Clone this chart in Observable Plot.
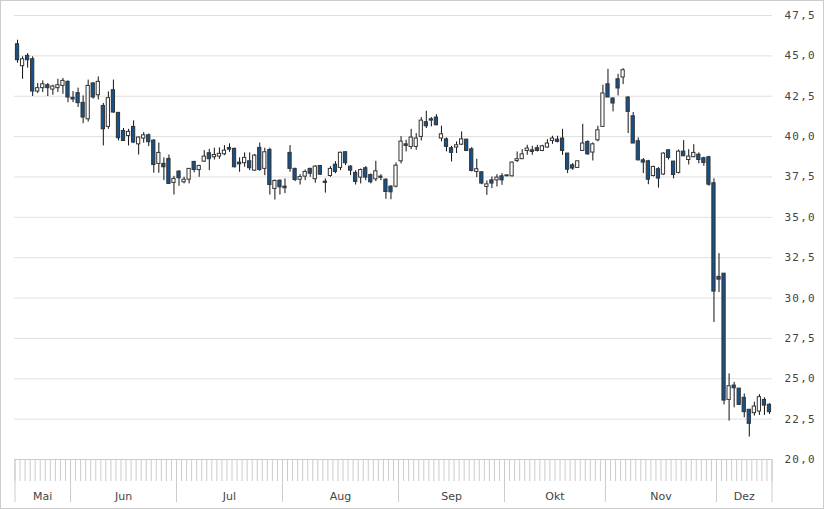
<!DOCTYPE html>
<html><head><meta charset="utf-8">
<script src="https://cdn.jsdelivr.net/npm/d3@7"></script>
<script src="https://cdn.jsdelivr.net/npm/@observablehq/plot@0.6"></script>
<style>
body{margin:0;background:#fff;}
#wrap{position:relative;width:824px;height:509px;overflow:hidden;}
#border{position:absolute;left:0;top:0;width:824px;height:509px;box-sizing:border-box;border:1px solid #ccc;pointer-events:none;}
</style></head><body>
<div id="wrap"><div id="border"></div></div>
<script>
const open = [45.72,44.36,45.00,44.79,42.79,43.00,43.18,42.91,43.00,43.14,43.39,42.40,42.69,42.09,41.07,43.29,42.56,41.90,40.60,42.87,41.47,40.35,40.04,40.60,39.52,39.88,40.08,39.75,38.31,38.31,38.62,37.13,37.83,37.17,37.33,38.43,37.93,38.45,38.97,38.72,38.76,38.90,39.30,39.24,38.39,38.35,38.47,37.89,39.30,38.00,39.17,36.76,37.27,36.90,38.99,38.00,37.33,37.52,38.00,37.36,38.18,37.21,37.56,38.26,38.06,39.03,38.14,37.75,37.46,38.04,37.62,37.35,37.52,37.33,36.90,36.90,38.47,39.52,39.36,39.36,39.98,40.89,41.07,41.18,39.88,39.83,39.28,39.32,39.50,39.81,39.21,37.81,37.79,36.88,37.29,37.29,37.54,37.54,37.54,38.49,38.60,39.11,39.15,39.28,39.11,39.32,39.73,39.81,39.88,38.95,38.22,38.06,39.11,39.67,39.01,39.77,40.60,43.24,42.36,43.55,43.66,42.42,41.26,39.71,38.53,38.47,37.56,37.98,37.65,39.15,38.45,37.75,39.07,38.55,38.72,38.88,38.66,38.72,37.11,31.31,31.51,23.69,24.58,24.39,23.82,23.08,22.87,22.97,23.69,23.39];
const high = [45.97,44.94,45.14,44.94,43.29,43.45,43.29,43.18,43.55,43.60,43.45,42.79,43.00,42.52,43.50,43.35,43.70,42.05,42.77,43.50,41.49,40.50,40.45,40.97,39.98,40.25,40.16,39.81,39.60,38.68,38.86,37.54,37.89,37.48,38.00,38.47,38.22,39.13,39.21,39.28,39.30,39.44,39.55,39.28,38.68,38.99,38.99,38.89,39.60,39.28,39.28,37.31,37.31,37.38,39.44,38.04,37.64,37.93,38.04,38.20,38.20,37.38,38.14,38.45,39.03,39.07,38.20,37.89,37.99,38.14,37.68,38.47,37.64,37.38,36.96,38.37,40.00,39.77,40.45,40.19,41.18,41.57,41.18,41.36,40.64,39.92,39.40,39.67,40.29,39.83,39.32,38.60,37.80,37.25,37.50,37.64,37.71,37.61,38.43,39.05,39.19,39.46,39.40,39.46,39.46,39.81,40.02,40.02,40.45,38.95,38.33,38.47,40.76,39.73,39.61,40.64,43.18,44.17,42.40,43.86,44.21,42.46,41.49,39.92,38.64,38.53,38.16,38.08,38.99,39.20,38.47,39.17,39.75,39.19,39.50,38.99,38.72,38.78,37.38,32.75,31.51,25.30,24.78,24.40,24.06,23.08,23.55,24.02,23.82,23.45];
const low = [44.55,43.55,44.24,42.48,42.67,42.73,42.48,42.56,42.73,42.62,42.10,42.10,41.80,40.80,40.90,42.32,42.27,39.42,40.45,41.45,39.73,39.70,39.42,39.57,38.86,39.59,39.38,37.73,37.73,37.27,37.05,36.38,36.92,37.07,37.07,37.75,37.48,38.41,37.89,38.55,38.59,38.82,39.03,38.06,37.79,38.10,37.89,37.85,37.85,37.58,36.38,36.07,36.38,36.47,37.79,37.21,37.00,37.27,37.48,37.11,37.60,36.50,37.48,37.70,37.89,38.20,37.58,37.00,37.07,37.27,37.07,37.21,37.27,36.11,36.09,36.82,38.31,39.05,39.19,39.15,39.73,40.50,40.60,40.68,39.67,39.05,38.43,38.95,39.45,39.11,37.81,37.46,37.02,36.36,36.78,36.88,36.98,37.52,37.50,38.39,38.58,38.84,38.84,39.05,39.07,39.28,39.52,39.61,38.84,37.71,37.91,38.02,39.11,38.84,38.49,39.67,40.60,42.42,41.53,42.52,43.22,40.19,39.57,38.49,37.71,37.02,37.50,36.81,37.60,38.55,37.38,37.69,38.78,38.24,38.70,38.31,38.16,36.92,28.49,30.34,23.38,22.38,23.20,23.38,22.58,21.39,22.69,22.73,22.73,22.79];
const close = [44.73,44.79,44.73,42.79,43.00,43.24,43.00,43.10,43.18,43.45,42.42,42.30,42.07,41.18,43.14,42.42,43.39,40.45,42.38,41.49,39.90,39.73,40.29,39.63,39.94,40.08,39.65,38.24,38.99,38.10,37.07,37.38,37.42,37.33,38.00,37.93,38.18,38.76,38.60,38.86,38.93,39.13,39.19,38.10,38.28,38.68,38.04,38.82,37.93,39.03,37.00,37.25,36.86,36.80,38.00,37.31,37.50,37.81,37.70,38.14,37.64,37.13,38.00,37.81,39.00,38.35,37.89,37.19,37.93,37.46,37.17,37.85,37.45,36.57,36.55,38.20,39.69,39.42,39.94,39.88,40.99,40.64,40.99,40.70,40.14,39.36,38.99,39.46,39.83,39.11,37.87,37.98,37.09,37.04,37.09,37.46,37.29,37.60,38.39,38.60,38.90,39.26,39.05,39.11,39.40,39.57,39.88,39.67,39.11,37.95,38.02,38.47,39.57,38.90,39.52,40.39,42.67,42.42,42.05,42.98,44.11,41.53,39.57,38.53,38.39,37.33,38.12,37.40,38.95,38.68,37.62,39.07,38.78,38.76,38.99,38.55,38.37,37.02,30.40,31.14,23.65,24.54,24.41,23.38,22.93,22.21,23.28,23.86,23.34,22.93];

const months = ["Mai","Jun","Jul","Aug","Sep","Okt","Nov","Dez"];
const monthDays = [11,21,21,23,21,20,22,11];
const yTicks = [20,22.5,25,27.5,30,32.5,35,37.5,40,42.5,45,47.5];

const data = open.map((o, i) => ({i, open: o, high: high[i], low: low[i], close: close[i]}));
let acc = 0;
const bounds = [-0.5];
const centers = [];
monthDays.forEach(n => { centers.push(acc - 0.5 + n / 2); acc += n; bounds.push(acc - 0.5); });
const dayTicks = d3.range(-0.5, acc, 1);
const fmt = d => d3.format(".1f")(d).replace(".", ",");

const chart = Plot.plot({
  width: 824, height: 509,
  marginLeft: 14, marginRight: 52, marginTop: 15, marginBottom: 50,
  x: {type: "linear", domain: [-0.6, acc - 0.4], label: null},
  y: {domain: [20, 47.5], label: null},
  style: {fontFamily: "DejaVu Sans", fontSize: "11px", color: "#444", background: "transparent"},
  marks: [
    Plot.gridY({ticks: yTicks.filter(v => v > 20), stroke: "#e0e0e0", strokeOpacity: 1}),
    Plot.ruleY([20], {stroke: "#ccc"}),
    Plot.axisX({ticks: dayTicks, tickSize: 22, stroke: "#ccc", strokeOpacity: 1, tickFormat: () => "", label: null}),
    Plot.axisX({ticks: bounds, tickSize: 43, stroke: "#ccc", strokeOpacity: 1, tickFormat: () => "", label: null}),
    Plot.axisX({ticks: centers, tickSize: 0, tickPadding: 33, tickFormat: d => months[centers.indexOf(d)], label: null}),
    Plot.axisY({ticks: yTicks, anchor: "right", tickSize: 0, tickPadding: 12, tickFormat: fmt, label: null}),
    Plot.ruleX(data, {x: "i", y1: "low", y2: "high", stroke: "#111", strokeWidth: 1}),
    Plot.rect(data, {
      x1: d => d.i - 0.32, x2: d => d.i + 0.32,
      y1: "open", y2: "close",
      fill: d => d.close >= d.open ? "#ffffff" : "#15528c",
      stroke: "#333", strokeWidth: 1
    })
  ]
});
d3.select(chart).selectAll('g[aria-label="y-axis tick label"] text')
  .style("font-family", "'DejaVu Sans Mono'").style("letter-spacing", "1.2px");
document.getElementById("wrap").prepend(chart);
</script>
</body></html>
